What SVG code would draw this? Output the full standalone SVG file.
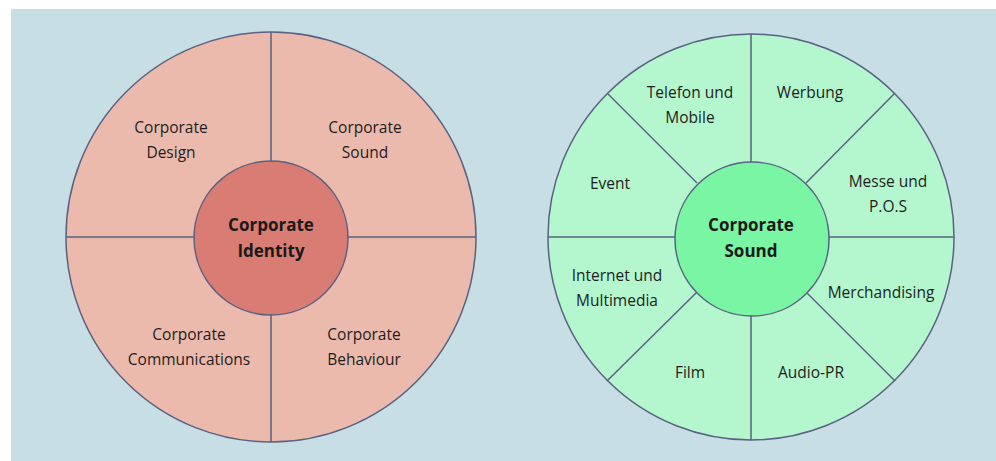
<svg xmlns="http://www.w3.org/2000/svg" width="996" height="461" viewBox="0 0 996 461">
<style>
.ln{stroke:#596282;stroke-width:1.5;fill:none}
.oc{stroke:#596282;stroke-width:1.5}
.t{font-family:"Open Sans","Noto Sans",sans-serif;font-size:15.5px;fill:#1e1e1e;text-anchor:middle}
.b{font-family:"Open Sans","Noto Sans",sans-serif;font-size:17px;font-weight:bold;fill:#1a1a1a;text-anchor:middle}
</style>
<rect width="996" height="461" fill="#ffffff"/>
<rect x="11" y="9" width="985" height="452" fill="#c6dee4"/>
<g id="left-wheel">
<circle class="oc" cx="271" cy="237" r="205" fill="#ecb9ad"/>
</g>
<g id="right-wheel">
<circle class="oc" cx="751" cy="237" r="203" fill="#b4f6cd"/>
</g>
<g id="connectors">
<line class="ln" x1="271" y1="32" x2="271" y2="161"/>
<line class="ln" x1="271" y1="315" x2="271" y2="442"/>
<line class="ln" x1="66" y1="237" x2="194" y2="237"/>
<line class="ln" x1="348" y1="237" x2="476" y2="237"/>
<line class="ln" x1="751" y1="34" x2="751" y2="162"/>
<line class="ln" x1="751" y1="316" x2="751" y2="440"/>
<line class="ln" x1="548" y1="237" x2="675" y2="237"/>
<line class="ln" x1="828" y1="237" x2="954" y2="237"/>
<line class="ln" x1="607" y1="93" x2="697" y2="183"/>
<line class="ln" x1="895" y1="93" x2="806" y2="183"/>
<line class="ln" x1="607" y1="381" x2="697" y2="292"/>
<line class="ln" x1="895" y1="381" x2="806" y2="292"/>
</g>
<g id="ci-center">
<circle class="oc" cx="271" cy="238" r="77" fill="#d97c73"/>
<text class="b" x="271" y="231">Corporate</text>
<text class="b" x="271" y="257">Identity</text>
</g>
<g id="ci-design">
<text class="t" x="171" y="133">Corporate</text>
<text class="t" x="171" y="158">Design</text>
</g>
<g id="ci-sound">
<text class="t" x="365" y="133">Corporate</text>
<text class="t" x="365" y="158">Sound</text>
</g>
<g id="ci-communications">
<text class="t" x="189" y="340">Corporate</text>
<text class="t" x="189" y="365">Communications</text>
</g>
<g id="ci-behaviour">
<text class="t" x="364" y="340">Corporate</text>
<text class="t" x="364" y="365">Behaviour</text>
</g>
<g id="cs-center">
<circle class="oc" cx="752" cy="239" r="77" fill="#7af5a4"/>
<text class="b" x="751" y="231">Corporate</text>
<text class="b" x="751" y="257">Sound</text>
</g>
<g id="cs-telefon">
<text class="t" x="690" y="98">Telefon und</text>
<text class="t" x="690" y="123">Mobile</text>
</g>
<g id="cs-werbung">
<text class="t" x="810" y="98">Werbung</text>
</g>
<g id="cs-event">
<text class="t" x="610" y="189">Event</text>
</g>
<g id="cs-messe">
<text class="t" x="888" y="187">Messe und</text>
<text class="t" x="888" y="212">P.O.S</text>
</g>
<g id="cs-internet">
<text class="t" x="617" y="281">Internet und</text>
<text class="t" x="617" y="306">Multimedia</text>
</g>
<g id="cs-merch">
<text class="t" x="881" y="298">Merchandising</text>
</g>
<g id="cs-film">
<text class="t" x="690" y="378">Film</text>
</g>
<g id="cs-audio">
<text class="t" x="811" y="378">Audio-PR</text>
</g>
</svg>
